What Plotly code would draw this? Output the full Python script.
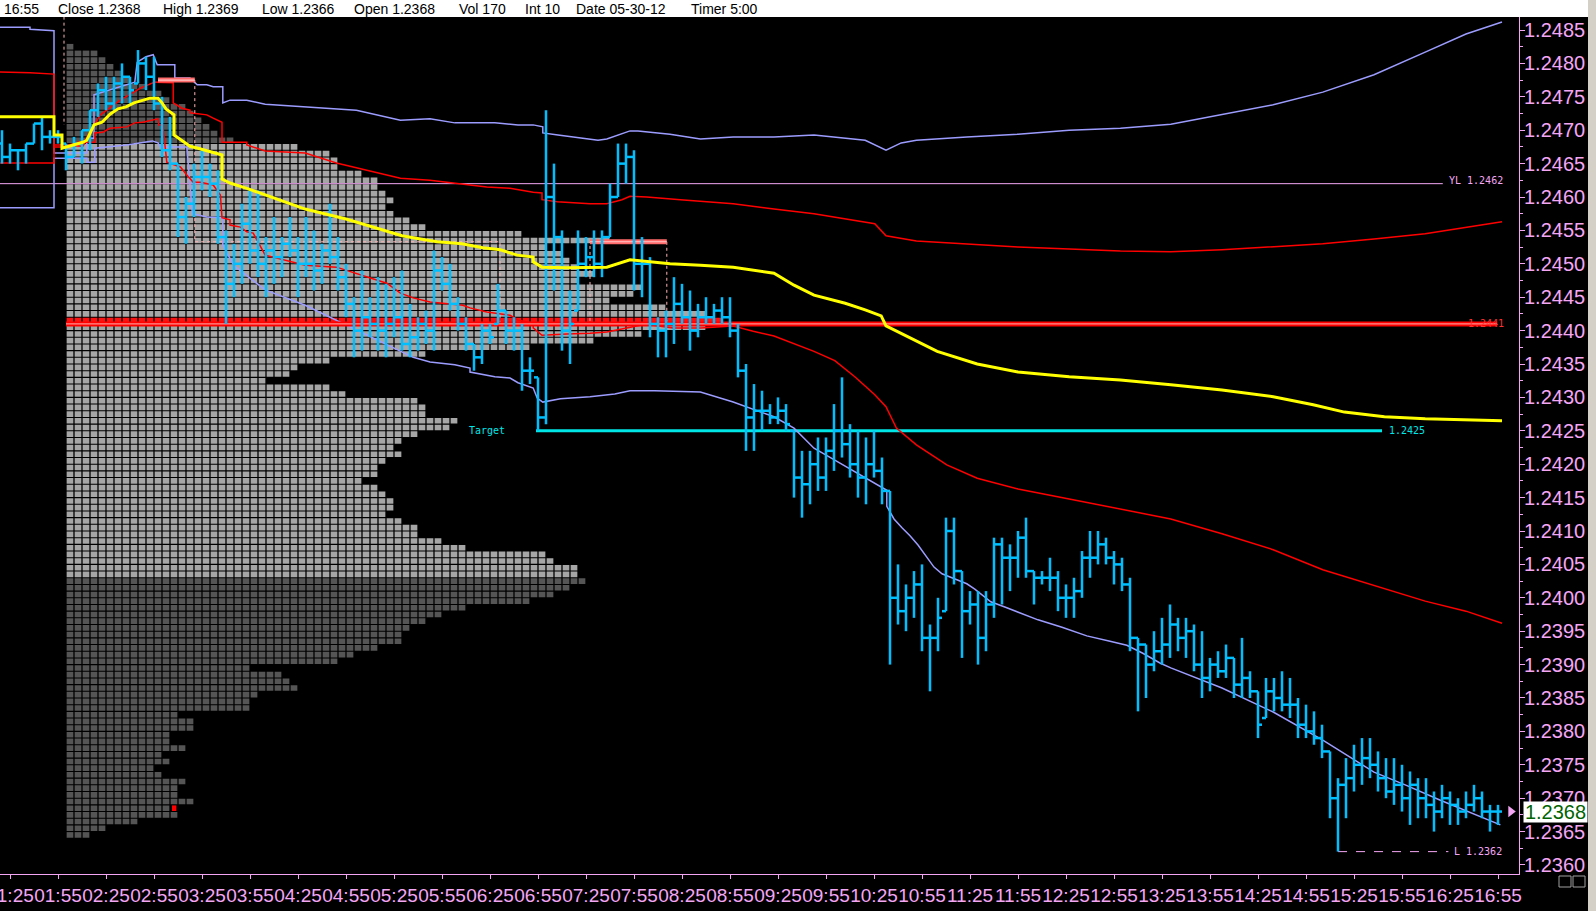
import plotly.graph_objects as go

PINK = '#f4a6f4'
BLUE = '#00bfff'
LAV = '#9c9cff'
RED = '#ff0000'
YEL = '#ffff00'
CYAN = '#00e6e6'
SANS = 'Liberation Sans, Arial, sans-serif'
MONO = 'DejaVu Sans Mono, monospace'

# ---------------- OHLC bars (5-min), bar index -1 .. 186 ----------------
bar_idx = list(range(-1, 187))
highs = [
    1.2470, 1.2468, 1.2467, 1.2468, 1.2471, 1.2472, 1.2470, 1.2470, 1.2468, 1.2469,
    1.2470, 1.2473, 1.2477, 1.2478, 1.2478, 1.2480, 1.2478, 1.2482, 1.2481, 1.2481,
    1.2475, 1.2472, 1.2465, 1.2460, 1.2465, 1.2467, 1.2465, 1.2464, 1.2455, 1.2453,
    1.2459, 1.2461, 1.2461, 1.2454, 1.2457, 1.2454, 1.2457, 1.2454, 1.2457, 1.2455,
    1.2453, 1.2459, 1.2454, 1.2450, 1.2445, 1.2449, 1.2445, 1.2448, 1.2447, 1.2448,
    1.2449, 1.2444, 1.2442, 1.2443, 1.2452, 1.2451, 1.2450, 1.2445, 1.2442, 1.2438,
    1.2441, 1.2441, 1.2447, 1.2443, 1.2442, 1.2441, 1.2436, 1.2433, 1.2473, 1.2465,
    1.2455, 1.2446, 1.2455, 1.2454, 1.2455, 1.2455, 1.2462, 1.2468, 1.2468, 1.2467,
    1.2454, 1.2451, 1.2442, 1.2443, 1.2448, 1.2447, 1.2446, 1.2444, 1.2445, 1.2444,
    1.2445, 1.2445, 1.2441, 1.2435, 1.2432, 1.2431, 1.2429, 1.2430, 1.2429, 1.2425,
    1.2422, 1.2422, 1.2424, 1.2424, 1.2429, 1.2433, 1.2426, 1.2425, 1.2424, 1.2425,
    1.2421, 1.2416, 1.2405, 1.2402, 1.2404, 1.2405, 1.2396, 1.2400, 1.2412, 1.2412,
    1.2404, 1.2401, 1.2401, 1.2401, 1.2409, 1.2409, 1.2408, 1.2410, 1.2412, 1.2404,
    1.2404, 1.2406, 1.2404, 1.2402, 1.2403, 1.2407, 1.2410, 1.2410, 1.2409, 1.2407,
    1.2406, 1.2403, 1.2394, 1.2393, 1.2395, 1.2397, 1.2399, 1.2397, 1.2397, 1.2396,
    1.2395, 1.2391, 1.2392, 1.2393, 1.2391, 1.2394, 1.2389, 1.2386, 1.2388, 1.2388,
    1.2389, 1.2388, 1.2385, 1.2384, 1.2383, 1.2381, 1.2377, 1.2373, 1.2376, 1.2378,
    1.2379, 1.2379, 1.2377, 1.2376, 1.2376, 1.2375, 1.2374, 1.2373, 1.2373, 1.2371,
    1.2372, 1.2371, 1.2370, 1.2371, 1.2372, 1.2371, 1.2369, 1.2369]
lows = [
    1.2465, 1.2465, 1.2464, 1.2465, 1.2468, 1.2467, 1.2468, 1.2468, 1.2464, 1.2466,
    1.2465, 1.2467, 1.2472, 1.2473, 1.2473, 1.2474, 1.2474, 1.2477, 1.2476, 1.2473,
    1.2466, 1.2464, 1.2454, 1.2453, 1.2457, 1.2461, 1.2460, 1.2453, 1.2441, 1.2445,
    1.2447, 1.2450, 1.2448, 1.2445, 1.2447, 1.2448, 1.2451, 1.2445, 1.2448, 1.2446,
    1.2447, 1.2450, 1.2446, 1.2442, 1.2436, 1.2437, 1.2439, 1.2437, 1.2436, 1.2439,
    1.2437, 1.2436, 1.2437, 1.2438, 1.2437, 1.2446, 1.2443, 1.2440, 1.2437, 1.2434,
    1.2435, 1.2438, 1.2441, 1.2438, 1.2437, 1.2431, 1.2432, 1.2425, 1.2426, 1.2446,
    1.2437, 1.2435, 1.2443, 1.2448, 1.2448, 1.2448, 1.2454, 1.2460, 1.2462, 1.2446,
    1.2445, 1.2439, 1.2436, 1.2436, 1.2438, 1.2441, 1.2437, 1.2439, 1.2441, 1.2441,
    1.2441, 1.2439, 1.2433, 1.2422, 1.2422, 1.2425, 1.2426, 1.2426, 1.2425, 1.2415,
    1.2412, 1.2414, 1.2416, 1.2416, 1.2419, 1.2421, 1.2418, 1.2415, 1.2414, 1.2418,
    1.2414, 1.2390, 1.2396, 1.2395, 1.2397, 1.2392, 1.2386, 1.2392, 1.2398, 1.2402,
    1.2391, 1.2396, 1.2390, 1.2392, 1.2397, 1.2399, 1.2401, 1.2403, 1.2403, 1.2399,
    1.2402, 1.2401, 1.2398, 1.2397, 1.2397, 1.2400, 1.2403, 1.2405, 1.2405, 1.2402,
    1.2401, 1.2392, 1.2383, 1.2385, 1.2389, 1.2390, 1.2391, 1.2392, 1.2391, 1.2389,
    1.2385, 1.2386, 1.2388, 1.2388, 1.2385, 1.2385, 1.2385, 1.2379, 1.2382, 1.2383,
    1.2383, 1.2382, 1.2379, 1.2379, 1.2378, 1.2376, 1.2367, 1.2362, 1.2367, 1.2371,
    1.2372, 1.2373, 1.2371, 1.2370, 1.2369, 1.2368, 1.2366, 1.2367, 1.2367, 1.2365,
    1.2367, 1.2366, 1.2366, 1.2367, 1.2368, 1.2367, 1.2365, 1.2366]
opens = [
    1.2468, 1.2466, 1.2467, 1.2467, 1.2468, 1.2471, 1.2469, 1.2469, 1.2468, 1.2466,
    1.2468, 1.2470, 1.2473, 1.2476, 1.2474, 1.2477, 1.2478, 1.2477, 1.2480, 1.2478,
    1.2474, 1.2467, 1.2465, 1.2457, 1.2459, 1.2463, 1.2463, 1.2462, 1.2454, 1.2447,
    1.2450, 1.2456, 1.2452, 1.2450, 1.2452, 1.2451, 1.2453, 1.2452, 1.2450, 1.2450,
    1.2449, 1.2452, 1.2451, 1.2448, 1.2444, 1.2440, 1.2442, 1.2441, 1.2440, 1.2441,
    1.2442, 1.2438, 1.2439, 1.2441, 1.2440, 1.2449, 1.2447, 1.2444, 1.2441, 1.2438,
    1.2436, 1.2440, 1.2441, 1.2443, 1.2440, 1.2440, 1.2434, 1.2433, 1.2427, 1.2460,
    1.2454, 1.2440, 1.2443, 1.2450, 1.2451, 1.2450, 1.2454, 1.2460, 1.2465, 1.2466,
    1.2450, 1.2450, 1.2441, 1.2440, 1.2441, 1.2444, 1.2442, 1.2440, 1.2442, 1.2442,
    1.2443, 1.2442, 1.2440, 1.2434, 1.2427, 1.2428, 1.2428, 1.2427, 1.2428, 1.2425,
    1.2418, 1.2417, 1.2420, 1.2418, 1.2422, 1.2425, 1.2423, 1.2420, 1.2418, 1.2420,
    1.2419, 1.2416, 1.2400, 1.2398, 1.2400, 1.2402, 1.2394, 1.2394, 1.2398, 1.2410,
    1.2404, 1.2398, 1.2399, 1.2394, 1.2399, 1.2408, 1.2406, 1.2406, 1.2409, 1.2404,
    1.2403, 1.2403, 1.2403, 1.2400, 1.2400, 1.2401, 1.2406, 1.2406, 1.2408, 1.2406,
    1.2405, 1.2402, 1.2394, 1.2393, 1.2390, 1.2392, 1.2393, 1.2396, 1.2394, 1.2395,
    1.2390, 1.2388, 1.2390, 1.2389, 1.2391, 1.2387, 1.2388, 1.2386, 1.2382, 1.2386,
    1.2385, 1.2384, 1.2384, 1.2381, 1.2380, 1.2379, 1.2377, 1.2370, 1.2372, 1.2373,
    1.2375, 1.2376, 1.2375, 1.2373, 1.2371, 1.2372, 1.2370, 1.2372, 1.2370, 1.2369,
    1.2368, 1.2370, 1.2369, 1.2368, 1.2369, 1.2370, 1.2368, 1.2368]
closes = [
    1.2466, 1.2467, 1.2467, 1.2468, 1.2471, 1.2469, 1.2469, 1.2469, 1.2466, 1.2468,
    1.2470, 1.2473, 1.2476, 1.2474, 1.2477, 1.2478, 1.2476, 1.2480, 1.2478, 1.2474,
    1.2467, 1.2465, 1.2457, 1.2459, 1.2463, 1.2463, 1.2462, 1.2454, 1.2447, 1.2450,
    1.2456, 1.2452, 1.2450, 1.2452, 1.2451, 1.2453, 1.2452, 1.2450, 1.2450, 1.2449,
    1.2452, 1.2451, 1.2448, 1.2444, 1.2440, 1.2442, 1.2441, 1.2440, 1.2441, 1.2442,
    1.2438, 1.2439, 1.2441, 1.2440, 1.2449, 1.2447, 1.2444, 1.2441, 1.2438, 1.2436,
    1.2440, 1.2439, 1.2443, 1.2440, 1.2440, 1.2434, 1.2434, 1.2427, 1.2460, 1.2454,
    1.2440, 1.2441, 1.2450, 1.2451, 1.2450, 1.2454, 1.2460, 1.2465, 1.2466, 1.2450,
    1.2450, 1.2441, 1.2440, 1.2441, 1.2444, 1.2442, 1.2440, 1.2442, 1.2442, 1.2443,
    1.2442, 1.2440, 1.2434, 1.2427, 1.2428, 1.2428, 1.2427, 1.2428, 1.2426, 1.2418,
    1.2417, 1.2420, 1.2418, 1.2422, 1.2425, 1.2423, 1.2420, 1.2418, 1.2420, 1.2419,
    1.2416, 1.2400, 1.2398, 1.2400, 1.2402, 1.2394, 1.2394, 1.2397, 1.2410, 1.2404,
    1.2398, 1.2399, 1.2394, 1.2399, 1.2408, 1.2406, 1.2406, 1.2409, 1.2404, 1.2403,
    1.2403, 1.2403, 1.2400, 1.2400, 1.2401, 1.2406, 1.2406, 1.2408, 1.2406, 1.2405,
    1.2402, 1.2394, 1.2393, 1.2390, 1.2392, 1.2393, 1.2396, 1.2394, 1.2395, 1.2390,
    1.2388, 1.2390, 1.2389, 1.2391, 1.2387, 1.2388, 1.2386, 1.2381, 1.2386, 1.2385,
    1.2384, 1.2384, 1.2381, 1.2380, 1.2379, 1.2377, 1.2370, 1.2372, 1.2373, 1.2375,
    1.2376, 1.2375, 1.2373, 1.2371, 1.2372, 1.2370, 1.2372, 1.2370, 1.2369, 1.2368,
    1.2370, 1.2369, 1.2368, 1.2369, 1.2370, 1.2368, 1.2368, 1.2368]

# ---------------- volume profile (boxes per price row) ----------------
prof_levels = [
    1.2482, 1.2481, 1.2480, 1.2479, 1.2478, 1.2477, 1.2476, 1.2475, 1.2474, 1.2473,
    1.2472, 1.2471, 1.2470, 1.2469, 1.2468, 1.2467, 1.2466, 1.2465, 1.2464, 1.2463,
    1.2462, 1.2461, 1.2460, 1.2459, 1.2458, 1.2457, 1.2456, 1.2455, 1.2454, 1.2453,
    1.2452, 1.2451, 1.2450, 1.2449, 1.2448, 1.2447, 1.2446, 1.2445, 1.2444, 1.2443,
    1.2442, 1.2441, 1.2440, 1.2439, 1.2438, 1.2437, 1.2436, 1.2435, 1.2434, 1.2433,
    1.2432, 1.2431, 1.2430, 1.2429, 1.2428, 1.2427, 1.2426, 1.2425, 1.2424, 1.2423,
    1.2422, 1.2421, 1.2420, 1.2419, 1.2418, 1.2417, 1.2416, 1.2415, 1.2414, 1.2413,
    1.2412, 1.2411, 1.2410, 1.2409, 1.2408, 1.2407, 1.2406, 1.2405, 1.2404, 1.2403,
    1.2402, 1.2401, 1.2400, 1.2399, 1.2398, 1.2397, 1.2396, 1.2395, 1.2394, 1.2393,
    1.2392, 1.2391, 1.2390, 1.2389, 1.2388, 1.2387, 1.2386, 1.2385, 1.2384, 1.2383,
    1.2382, 1.2381, 1.2380, 1.2379, 1.2378, 1.2377, 1.2376, 1.2375, 1.2374, 1.2373,
    1.2372, 1.2371, 1.2370, 1.2369, 1.2368, 1.2367, 1.2366, 1.2365, 1.2364]
prof_cols = [
    1, 4, 5, 6, 7, 8, 10, 12, 13, 15,
    16, 17, 18, 19, 21, 29, 33, 34, 34, 37,
    39, 39, 40, 41, 40, 41, 43, 45, 57, 68,
    60, 62, 63, 64, 66, 64, 72, 71, 68, 75,
    80, 82, 80, 72, 66, 58, 45, 33, 29, 28,
    25, 33, 35, 44, 45, 45, 49, 48, 44, 42,
    41, 42, 40, 39, 39, 37, 39, 40, 41, 41,
    40, 42, 44, 44, 47, 50, 60, 61, 64, 64,
    65, 63, 61, 58, 50, 47, 45, 43, 42, 42,
    39, 36, 34, 23, 27, 28, 29, 24, 23, 23,
    14, 16, 16, 13, 13, 15, 12, 13, 11, 12,
    15, 14, 14, 16, 13, 14, 9, 5, 3]
prof_start = 7          # profile starts at bar slot 7 (session open)
value_area = (1.2403, 1.2467)
poc_price = 1.2441

# ---------------- study lines (bar index, price) ----------------
vwap_x = [-1.3, 5.5, 5.5, 6.5, 6.5, 9.1, 9.6, 10.5, 11.5, 12.5, 13.5, 14.5, 15.5, 16.5, 17.5, 18.5, 19.0, 19.5,
          20.5, 20.5, 21.5, 22.5, 23.5, 25.4, 26.5, 26.5, 27.5, 29.6, 31.3, 36.9, 42.0, 47.1, 49.0, 51.3, 53.4,
          56.5, 59.1, 61.3, 63.4, 65.4, 65.4, 66.5, 69.6, 74.6, 76.5, 77.5, 80.0, 82.5, 86.3, 90.4, 95.5, 98.0,
          100.5, 104.4, 106.9, 108.9, 109.5, 113.3, 115.9, 120.9, 126.0, 132.4, 138.8, 145.1, 151.5, 157.9,
          162.9, 166.8, 171.8, 176.9, 186.5]
vwap_y = [1.24720, 1.24720, 1.24693, 1.24693, 1.24673, 1.24682, 1.24685, 1.24708, 1.24712, 1.24724, 1.24732,
          1.24735, 1.24741, 1.24745, 1.24748, 1.24748, 1.24741, 1.24732, 1.24723, 1.24693, 1.24684, 1.24676,
          1.24673, 1.24667, 1.24663, 1.24627, 1.24621, 1.24613, 1.24606, 1.24582, 1.24567, 1.24548, 1.24542,
          1.24537, 1.24533, 1.24530, 1.24524, 1.24521, 1.24513, 1.24510, 1.24503, 1.24495, 1.24494, 1.24495,
          1.24502, 1.24506, 1.24503, 1.24500, 1.24498, 1.24495, 1.24486, 1.24468, 1.24453, 1.24441, 1.24431,
          1.24422, 1.24407, 1.24384, 1.24369, 1.24350, 1.24338, 1.24331, 1.24326, 1.24319, 1.24311, 1.24301,
          1.24289, 1.24278, 1.24271, 1.24268, 1.24265]

red_up_x = [-1.3, 2.5, 5.5, 5.5, 6.5, 9.4, 11.3, 13.8, 16.3, 18.1, 20.4, 20.4, 21.5, 22.5, 22.5, 24.6, 25.4,
            26.5, 26.5, 29.6, 29.6, 31.9, 36.9, 40.8, 48.8, 52.5, 55.4, 59.6, 62.5, 65.4, 66.5, 66.5, 68.4,
            72.5, 74.6, 76.5, 77.5, 79.6, 83.8, 86.3, 90.4, 95.5, 100.5, 108.1, 109.5, 113.3, 126.0, 138.8,
            145.1, 151.5, 164.1, 170.5, 176.9, 186.5]
red_up_y = [1.24787, 1.24786, 1.24784, 1.24675, 1.24675, 1.24685, 1.24723, 1.24745, 1.24763, 1.24772, 1.24771,
            1.24741, 1.24733, 1.24730, 1.24726, 1.24723, 1.24718, 1.24712, 1.24682, 1.24682, 1.24678, 1.24669,
            1.24666, 1.24651, 1.24628, 1.24625, 1.24621, 1.24615, 1.24613, 1.24607, 1.24606, 1.24596, 1.24593,
            1.24590, 1.24590, 1.24596, 1.24601, 1.24600, 1.24596, 1.24594, 1.24590, 1.24582, 1.24575, 1.24560,
            1.24542, 1.24534, 1.24525, 1.24519, 1.24518, 1.24521, 1.24530, 1.24537, 1.24545, 1.24563]

red_lo_x = [-1.3, 5.5, 5.5, 6.5, 9.1, 9.4, 10.6, 10.6, 11.6, 12.5, 14.6, 15.6, 16.6, 17.8, 18.5, 18.6, 19.1,
            19.6, 21.3, 22.1, 22.9, 23.8, 25.4, 26.3, 26.5, 27.5, 27.5, 28.8, 29.6, 30.4, 31.9, 36.9, 40.8,
            47.1, 48.8, 50.4, 52.5, 56.6, 57.5, 59.6, 62.5, 63.5, 65.4, 65.4, 66.5, 69.6, 72.5, 74.6, 76.3,
            78.8, 80.4, 82.9, 86.3, 90.4, 92.9, 95.5, 100.5, 103.1, 105.6, 108.1, 109.5, 110.8, 113.3, 117.1,
            120.9, 126.0, 132.4, 138.8, 145.1, 151.5, 157.9, 164.1, 170.5, 176.9, 182.0, 186.5]
red_lo_y = [1.24651, 1.24651, 1.24678, 1.24678, 1.24676, 1.24682, 1.24682, 1.24696, 1.24697, 1.24703, 1.24705,
            1.24711, 1.24712, 1.24715, 1.24717, 1.24708, 1.24708, 1.24652, 1.24645, 1.24633, 1.24622, 1.24622,
            1.24618, 1.24603, 1.24569, 1.24566, 1.24558, 1.24555, 1.24548, 1.24546, 1.24513, 1.24498, 1.24495,
            1.24471, 1.24456, 1.24449, 1.24443, 1.24438, 1.24434, 1.24428, 1.24423, 1.24416, 1.24411, 1.24404,
            1.24393, 1.24395, 1.24396, 1.24398, 1.24402, 1.24408, 1.24408, 1.24404, 1.24404, 1.24407, 1.24399,
            1.24392, 1.24369, 1.24355, 1.24331, 1.24304, 1.24286, 1.24254, 1.24229, 1.24199, 1.24179, 1.24163,
            1.24148, 1.24133, 1.24118, 1.24096, 1.24072, 1.24042, 1.24019, 1.23995, 1.23980, 1.23962]

lav_up_x = [-1.3, 2.5, 2.5, 5.5, 5.5, 6.5, 9.6, 9.6, 10.5, 10.5, 15.6, 15.9, 17.0, 17.9, 18.4, 20.6, 20.6, 22.5,
            23.4, 24.6, 25.4, 26.6, 26.6, 27.5, 29.6, 31.9, 36.9, 43.3, 48.8, 52.5, 55.6, 60.6, 63.5, 65.4, 66.6,
            66.6, 68.5, 71.5, 73.5, 74.6, 75.6, 77.5, 78.5, 82.5, 86.3, 90.4, 95.5, 100.5, 106.9, 109.5, 111.4,
            113.3, 119.6, 126.0, 132.4, 138.8, 145.1, 151.5, 157.9, 164.1, 170.5, 176.9, 182.0, 186.5]
lav_up_y = [1.24854, 1.24854, 1.24851, 1.24849, 1.24666, 1.24666, 1.24666, 1.24688, 1.24688, 1.24753, 1.24772,
            1.24802, 1.24810, 1.24813, 1.24798, 1.24798, 1.24778, 1.24778, 1.24768, 1.24768, 1.24765, 1.24765,
            1.24741, 1.24745, 1.24745, 1.24739, 1.24735, 1.24730, 1.24715, 1.24717, 1.24711, 1.24711, 1.24708,
            1.24708, 1.24705, 1.24696, 1.24693, 1.24688, 1.24685, 1.24687, 1.24691, 1.24699, 1.24699, 1.24694,
            1.24687, 1.24690, 1.24690, 1.24693, 1.24685, 1.24670, 1.24681, 1.24685, 1.24690, 1.24694, 1.24700,
            1.24703, 1.24709, 1.24723, 1.24738, 1.24757, 1.24783, 1.24817, 1.24844, 1.24862]

lav_lo_x = [-1.3, 5.5, 5.5, 6.5, 9.6, 9.6, 10.6, 10.6, 14.6, 17.8, 18.5, 18.8, 22.1, 22.8, 24.6, 26.6, 26.6,
            28.0, 31.9, 36.9, 43.3, 48.8, 50.4, 52.5, 55.6, 57.5, 57.5, 60.6, 62.5, 63.5, 65.4, 65.9, 66.6, 68.8,
            72.5, 75.6, 77.5, 80.6, 86.3, 90.4, 95.5, 98.0, 100.5, 103.1, 106.9, 109.6, 109.6, 110.5, 111.5,
            112.5, 113.5, 114.6, 115.5, 116.5, 118.5, 119.6, 120.6, 121.6, 122.6, 124.6, 126.6, 128.5, 131.5,
            134.6, 137.5, 139.6, 141.6, 143.8, 145.1, 151.5, 157.9, 164.1, 170.5, 174.4, 178.8, 186.3]
lav_lo_y = [1.24584, 1.24584, 1.24658, 1.24658, 1.24658, 1.24652, 1.24652, 1.24673, 1.24678, 1.24684, 1.24681,
            1.24675, 1.24675, 1.24575, 1.24570, 1.24569, 1.24528, 1.24497, 1.24461, 1.24438, 1.24401, 1.24368,
            1.24360, 1.24353, 1.24349, 1.24344, 1.24338, 1.24331, 1.24329, 1.24322, 1.24314, 1.24299, 1.24293,
            1.24298, 1.24301, 1.24305, 1.24310, 1.24310, 1.24308, 1.24293, 1.24271, 1.24254, 1.24224, 1.24206,
            1.24179, 1.24161, 1.24137, 1.24118, 1.24105, 1.24093, 1.24079, 1.24060, 1.24046, 1.24036, 1.24027,
            1.24021, 1.24013, 1.24003, 1.23994, 1.23985, 1.23976, 1.23967, 1.23956, 1.23943, 1.23935, 1.23929,
            1.23917, 1.23902, 1.23895, 1.23865, 1.23829, 1.23787, 1.23739, 1.23720, 1.23697, 1.23660]

# developing POC (pink / salmon)
dpoc_thick_x = [18.5, 23.1, None, 72.5, 82.1]
dpoc_thick_y = [1.24775, 1.24775, None, 1.24533, 1.24533]
dpoc_dot_x = [23.1, 23.1, 61.25, 61.25, 72.5, 72.5, None, 82.1, 82.1, None, 6.75, 6.75]
dpoc_dot_y = [1.24775, 1.24533, 1.24533, 1.2441, 1.2441, 1.24533, None, 1.24533, 1.2441, None, 1.2487, 1.24708]

# horizontal reference levels
yl_price, yl_span = 1.2462, (-1.3, 179.1)
poc_span = (7.0, 185.9)
target_price, target_span = 1.2425, (65.75, 171.5)
low_price, low_span = 1.2362, (166.0, 179.8)
last_price = 1.2368

# time axis
time_ticks = list(range(0, 187, 6))
time_labels = ['01:25', '01:55', '02:25', '02:55', '03:25', '03:55', '04:25', '04:55', '05:25', '05:55',
               '06:25', '06:55', '07:25', '07:55', '08:25', '08:55', '09:25', '09:55', '10:25', '10:55',
               '11:25', '11:55', '12:25', '12:55', '13:25', '13:55', '14:25', '14:55', '15:25', '15:55',
               '16:25', '16:55']

header_items = [('16:55', 2), ('Close 1.2368', 56), ('High 1.2369', 161), ('Low 1.2366', 260),
                ('Open 1.2368', 352), ('Vol 170', 457), ('Int 10', 523), ('Date 05-30-12', 574),
                ('Timer 5:00', 689)]

# ---------------- figure ----------------
W, H = 1596, 911
ML, MR, MT, MB = 0, 77, 17, 37
PW, PH = W - ML - MR, H - MT - MB


def pxx(px):
    return (px - ML) / PW


def pxy(py):
    return (H - MB - py) / PH


fig = go.Figure()

colors = []
for lv in prof_levels:
    if abs(lv - poc_price) < 1e-7:
        colors.append('#ff1010')
    elif value_area[0] - 1e-7 <= lv <= value_area[1] + 1e-7:
        colors.append('#a6a6a6')
    else:
        colors.append('#555555')
fig.add_trace(go.Bar(orientation='h', y=[lv + 0.00005 for lv in prof_levels], x=prof_cols,
                     base=prof_start, width=0.000084, marker=dict(color=colors, line=dict(width=0)),
                     hoverinfo='skip'))
fig.add_trace(go.Bar(orientation='h', y=[last_price + 0.00005], x=[0.55], base=prof_start + 13.25,
                     width=0.000084, marker=dict(color='#ff0000', line=dict(width=0)), hoverinfo='skip'))
sx, sy = [], []
for k in range(max(prof_cols) + 1):
    sx += [prof_start + k, prof_start + k, None]
    sy += [prof_levels[-1], prof_levels[0] + 0.0001, None]
fig.add_trace(go.Scatter(x=sx, y=sy, mode='lines', line=dict(color='black', width=1.3), hoverinfo='skip'))

fig.add_trace(go.Scatter(x=list(yl_span), y=[yl_price] * 2, mode='lines', line=dict(color=PINK, width=1)))
fig.add_trace(go.Scatter(x=list(target_span), y=[target_price] * 2, mode='lines', line=dict(color=CYAN, width=3)))
fig.add_trace(go.Scatter(x=lav_up_x, y=lav_up_y, mode='lines', line=dict(color=LAV, width=1.5)))
fig.add_trace(go.Scatter(x=lav_lo_x, y=lav_lo_y, mode='lines', line=dict(color=LAV, width=1.5)))
fig.add_trace(go.Scatter(x=red_up_x, y=red_up_y, mode='lines', line=dict(color=RED, width=1.5)))
fig.add_trace(go.Scatter(x=red_lo_x, y=red_lo_y, mode='lines', line=dict(color=RED, width=1.5)))
fig.add_trace(go.Scatter(x=dpoc_dot_x, y=dpoc_dot_y, mode='lines', line=dict(color='#ffb4b4', width=1, dash='dot')))
fig.add_trace(go.Scatter(x=dpoc_thick_x, y=dpoc_thick_y, mode='lines', line=dict(color='#ff6a6a', width=5)))
fig.add_trace(go.Scatter(x=dpoc_thick_x, y=dpoc_thick_y, mode='lines', line=dict(color='#ffc8c8', width=1.2)))
fig.add_trace(go.Scatter(x=list(poc_span), y=[poc_price] * 2, mode='lines', line=dict(color=RED, width=5)))
fig.add_trace(go.Scatter(x=list(poc_span), y=[poc_price] * 2, mode='lines', line=dict(color='#ff9090', width=1.2)))
fig.add_trace(go.Scatter(x=list(low_span), y=[low_price] * 2, mode='lines', line=dict(color=PINK, width=1, dash='dash')))

TICK = 0.5
bx, by = [], []
for i, o, h, l, c in zip(bar_idx, opens, highs, lows, closes):
    bx += [i, i, None, i - TICK, i, None, i, i + TICK, None]
    by += [l, h, None, o, o, None, c, c, None]
fig.add_trace(go.Scatter(x=bx, y=by, mode='lines', line=dict(color=BLUE, width=2.5), hoverinfo='skip'))

fig.add_trace(go.Scatter(x=vwap_x, y=vwap_y, mode='lines', line=dict(color=YEL, width=3)))
fig.add_trace(go.Scatter(x=[187.6], y=[last_price], mode='markers', cliponaxis=False,
                         marker=dict(symbol='triangle-right', size=10, color=PINK)))

annotations = []
for txt, px in header_items:
    annotations.append(dict(text=txt, x=pxx(px), y=pxy(8.5), xref='paper', yref='paper', xanchor='left',
                            yanchor='middle', showarrow=False, font=dict(family=SANS, size=14, color='black')))
small = dict(family=MONO, size=10)
annotations += [
    dict(text='YL 1.2462', x=179.6, y=yl_price + 0.00004, xref='x', yref='y', xanchor='left', yanchor='middle',
         showarrow=False, font=dict(**small, color=PINK)),
    dict(text='Target', x=62.1, y=target_price, xref='x', yref='y', xanchor='right', yanchor='middle',
         showarrow=False, font=dict(**small, color=CYAN)),
    dict(text='1.2425', x=172.1, y=target_price, xref='x', yref='y', xanchor='left', yanchor='middle',
         showarrow=False, font=dict(**small, color=CYAN)),
    dict(text='L 1.2362', x=180.25, y=low_price, xref='x', yref='y', xanchor='left', yanchor='middle',
         showarrow=False, font=dict(**small, color=PINK)),
    dict(text='1.2441', x=182.0, y=poc_price, xref='x', yref='y', xanchor='left', yanchor='middle',
         showarrow=False, font=dict(**small, color='#ff3030')),
    dict(text='1.2368', x=pxx(1523), y=last_price, xref='paper', yref='y', xanchor='left', yanchor='middle',
         showarrow=False, bgcolor='white', borderpad=0, width=63, height=20,
         font=dict(family=SANS, size=20, color='#006400')),
]

shapes = [
    dict(type='rect', xref='paper', yref='paper', x0=pxx(0), x1=pxx(1588), y0=pxy(17), y1=pxy(0),
         fillcolor='white', line=dict(width=0), layer='above'),
    dict(type='rect', xref='paper', yref='paper', x0=pxx(1588), x1=pxx(1600), y0=pxy(915), y1=pxy(-2),
         fillcolor='#d4d0c8', line=dict(width=0), layer='above'),
    dict(type='rect', xref='paper', yref='paper', x0=pxx(1559), x1=pxx(1571), y0=pxy(887), y1=pxy(876),
         line=dict(color='#a0a0a0', width=1)),
    dict(type='rect', xref='paper', yref='paper', x0=pxx(1573), x1=pxx(1585), y0=pxy(887), y1=pxy(876),
         line=dict(color='#a0a0a0', width=1)),
]

fig.update_layout(
    width=W, height=H, margin=dict(l=ML, r=MR, t=MT, b=MB, autoexpand=False),
    paper_bgcolor='black', plot_bgcolor='black', showlegend=False, hovermode=False,
    annotations=annotations, shapes=shapes, barmode='overlay',
    xaxis=dict(range=[-1.25, 188.625], showgrid=False, zeroline=False, showline=True, linecolor=PINK,
               linewidth=1, ticks='outside', ticklen=4, tickcolor=PINK, tickvals=time_ticks,
               ticktext=time_labels, tickangle=0, ticklabeloverflow='allow', automargin=False,
               tickfont=dict(family=SANS, size=19, color=PINK), fixedrange=True),
    yaxis=dict(range=[1.235865, 1.248695], side='right', showgrid=False, zeroline=False, showline=True,
               linecolor=PINK, linewidth=1, ticks='outside', ticklen=5, tickcolor=PINK, tick0=1.2360,
               dtick=0.0005, tickformat='.4f', automargin=False, ticklabelstandoff=-5,
               tickfont=dict(family=SANS, size=20, color=PINK),
               minor=dict(dtick=0.00025, ticks='outside', ticklen=3, tickcolor=PINK), fixedrange=True),
)

fig.write_html('out.html', config={'displayModeBar': False},
               post_script="document.body.style.margin='0';document.body.style.background='black';")
